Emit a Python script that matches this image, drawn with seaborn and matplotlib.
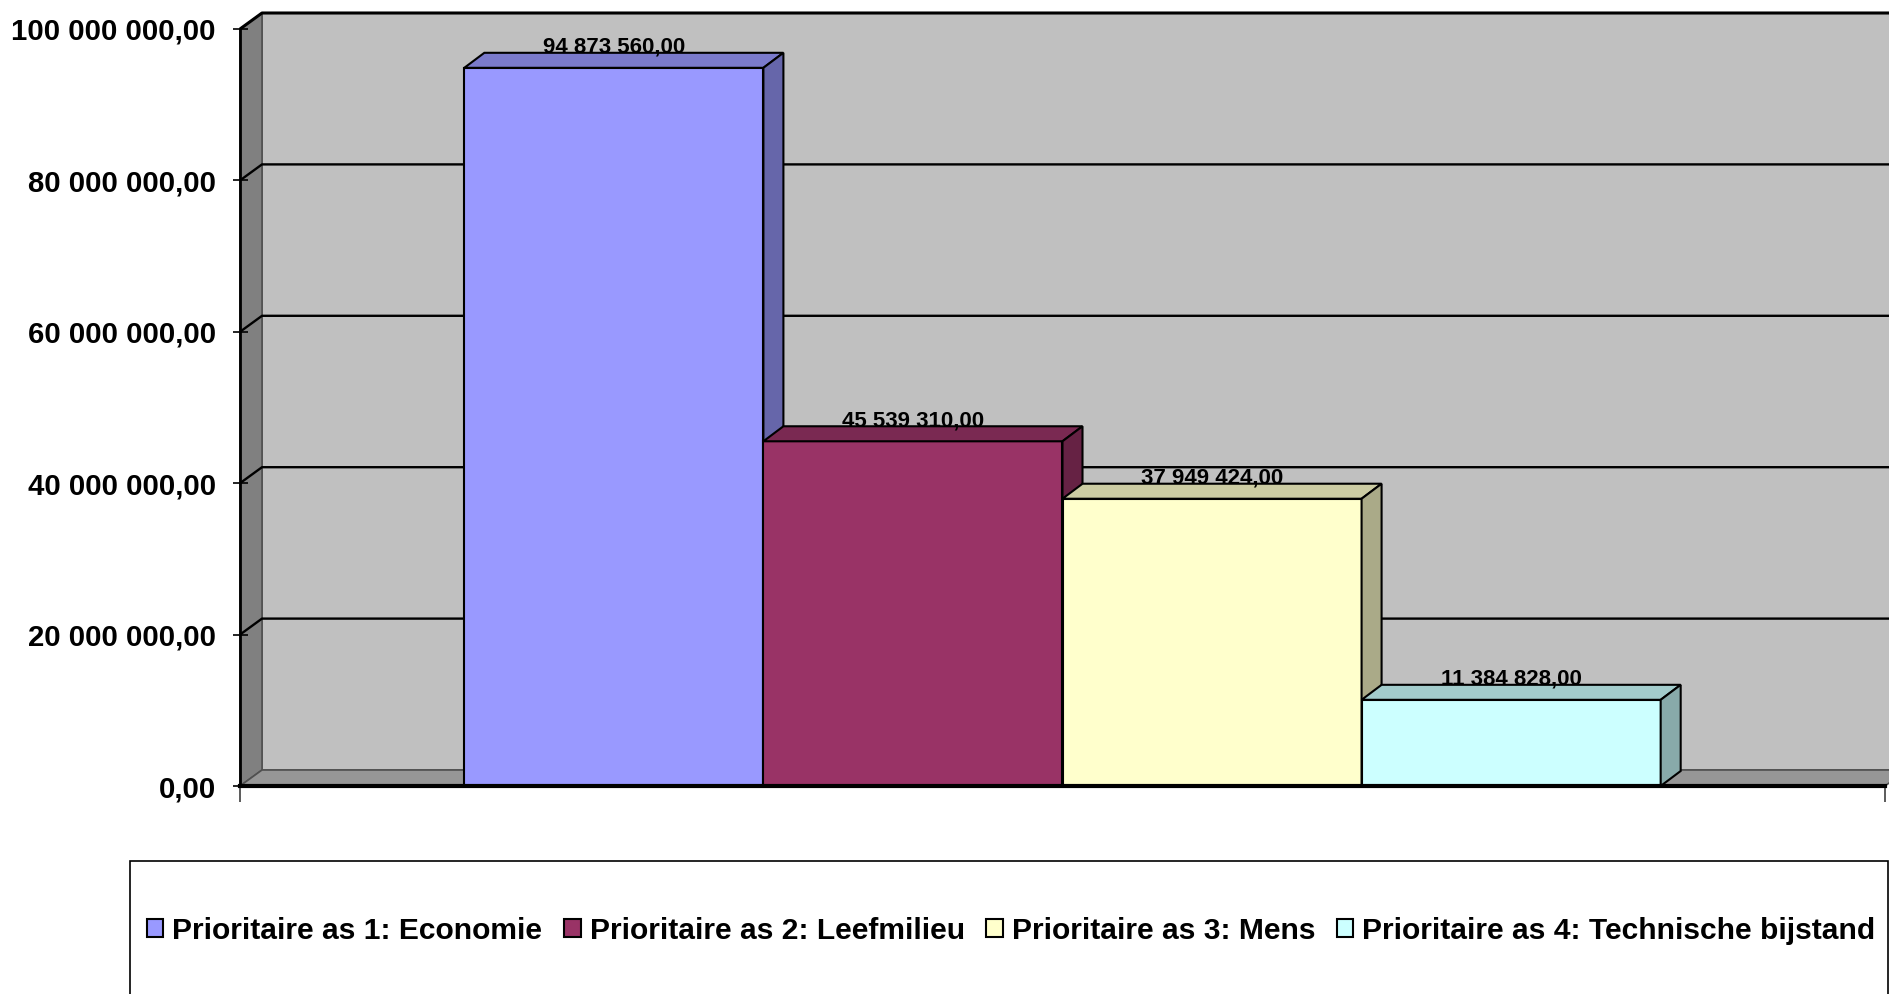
import numpy as np
import pandas as pd
import matplotlib
matplotlib.use("Agg")
import matplotlib.pyplot as plt
from matplotlib.colors import to_rgb
from matplotlib.patches import Polygon, Rectangle, Patch
import seaborn as sns

# data
series = ["Prioritaire as 1: Economie", "Prioritaire as 2: Leefmilieu",
          "Prioritaire as 3: Mens", "Prioritaire as 4: Technische bijstand"]
values = [94873560.00, 45539310.00, 37949424.00, 11384828.00]
colors = ["#9999FF", "#993366", "#FFFFCC", "#CCFFFF"]
yticks = [0, 20e6, 40e6, 60e6, 80e6, 100e6]


def fmt(v):
    return f"{v:,.2f}".replace(",", " ").replace(".", ",")


def shade(c, f):
    r, g, b = to_rgb(c)
    return (r * f, g * f, b * f)


sns.set_style("white")
plt.rcParams["font.family"] = ["Liberation Sans", "DejaVu Sans"]
plt.rcParams["font.weight"] = "bold"
plt.rcParams["text.color"] = "black"
plt.rcParams["ytick.labelcolor"] = "black"
plt.rcParams["xtick.labelcolor"] = "black"

W, H = 1890, 994
fig = plt.figure(figsize=(W / 100, H / 100), dpi=100)
ax = fig.add_axes([240 / W, (H - 786) / H, (1885 - 240) / W, (786 - 29) / H])
ax.set_facecolor("none")

df = pd.DataFrame({"serie": series, "waarde": values})
sns.barplot(data=df, x="serie", y="waarde", hue="serie", palette=colors,
            width=1.0, saturation=1, edgecolor="black", linewidth=1.5,
            legend=False, ax=ax)

x0, x1 = -1.25, 4.25
top = yticks[-1]
ax.set_xlim(x0, x1)
ax.set_ylim(0, top)

# 3d depth in data units
bb = ax.get_position()
px_x = (x1 - x0) / (bb.width * W)
px_y = top / (bb.height * H)
wdx, wdy = 22 * px_x, 16 * px_y
bdx, bdy = 20 * px_x, 15 * px_y

# walls and floor
ax.add_patch(Rectangle((x0 + wdx, wdy), (x1 - x0) + wdx, top, facecolor="#C0C0C0",
                       edgecolor="#505050", lw=1.2, zorder=0, clip_on=False))
ax.add_patch(Polygon([(x0, 0), (x0 + wdx, wdy), (x0 + wdx, top + wdy), (x0, top)],
                     facecolor="#808080", edgecolor="#505050", lw=1.2, zorder=0.5, clip_on=False))
ax.add_patch(Polygon([(x0, 0), (x1, 0), (x1 + wdx, wdy), (x0 + wdx, wdy)],
                     facecolor="#969696", edgecolor="#505050", lw=1.2, zorder=0.5, clip_on=False))
for v in yticks[1:]:
    ax.plot([x0, x0 + wdx, x1 + wdx], [v, v + wdy, v + wdy], color="black",
            lw=2.2 if v == top else 1.7, zorder=1, clip_on=False, solid_capstyle="butt")

# bars: top and side faces
bars = [p for c in ax.containers for p in c]
for i, p in enumerate(bars):
    z = 3 + i * 0.1
    p.set_zorder(z)
    xl, w, h = p.get_x(), p.get_width(), p.get_height()
    fc = p.get_facecolor()
    ax.add_patch(Polygon([(xl, h), (xl + bdx, h + bdy), (xl + w + bdx, h + bdy), (xl + w, h)],
                         facecolor=shade(fc, 0.8), edgecolor="black", lw=1.5, zorder=z, clip_on=False))
    ax.add_patch(Polygon([(xl + w, 0), (xl + w + bdx, bdy), (xl + w + bdx, h + bdy), (xl + w, h)],
                         facecolor=shade(fc, 0.667), edgecolor="black", lw=1.5, zorder=z, clip_on=False))
    ax.text(xl + w / 2, h + bdy, fmt(h), ha="center", va="baseline",
            fontsize=16, fontweight="bold", color="black", zorder=10)

# axes
for s in ["top", "right"]:
    ax.spines[s].set_visible(False)
ax.spines["left"].set_color("black")
ax.spines["left"].set_linewidth(2)
ax.spines["bottom"].set_color("black")
ax.spines["bottom"].set_linewidth(3)
ax.spines["bottom"].set_zorder(5)

ax.set_yticks(yticks)
ax.set_yticklabels([fmt(v) for v in yticks], fontsize=21.2, fontweight="bold")
ax.tick_params(axis="y", left=True, direction="inout", length=10.8, width=1.2, pad=12, color="black")
ax.set_xticks([x0, x1])
ax.set_xticklabels(["", ""])
ax.tick_params(axis="x", bottom=True, direction="out", length=11.5, width=1.2, color="#404040")
ax.set_xlabel("")
ax.set_ylabel("")

# legend
fig.add_artist(Rectangle((130 / W, -0.02), (1888 - 130) / W, (H - 861) / H + 0.02,
                         transform=fig.transFigure, fill=False, edgecolor="black", lw=1.2))
handles = [Patch(facecolor=c, edgecolor="black", lw=1.5) for c in colors]
fig.legend(handles, series, loc="center left", bbox_to_anchor=(147 / W, 1 - 931 / H),
           ncol=4, frameon=False, prop={"size": 21.6, "weight": "bold"},
           handlelength=0.55, handleheight=0.55, handletextpad=0.3,
           columnspacing=0.72, borderpad=0, borderaxespad=0)

fig.savefig("out.png", dpi=100)
